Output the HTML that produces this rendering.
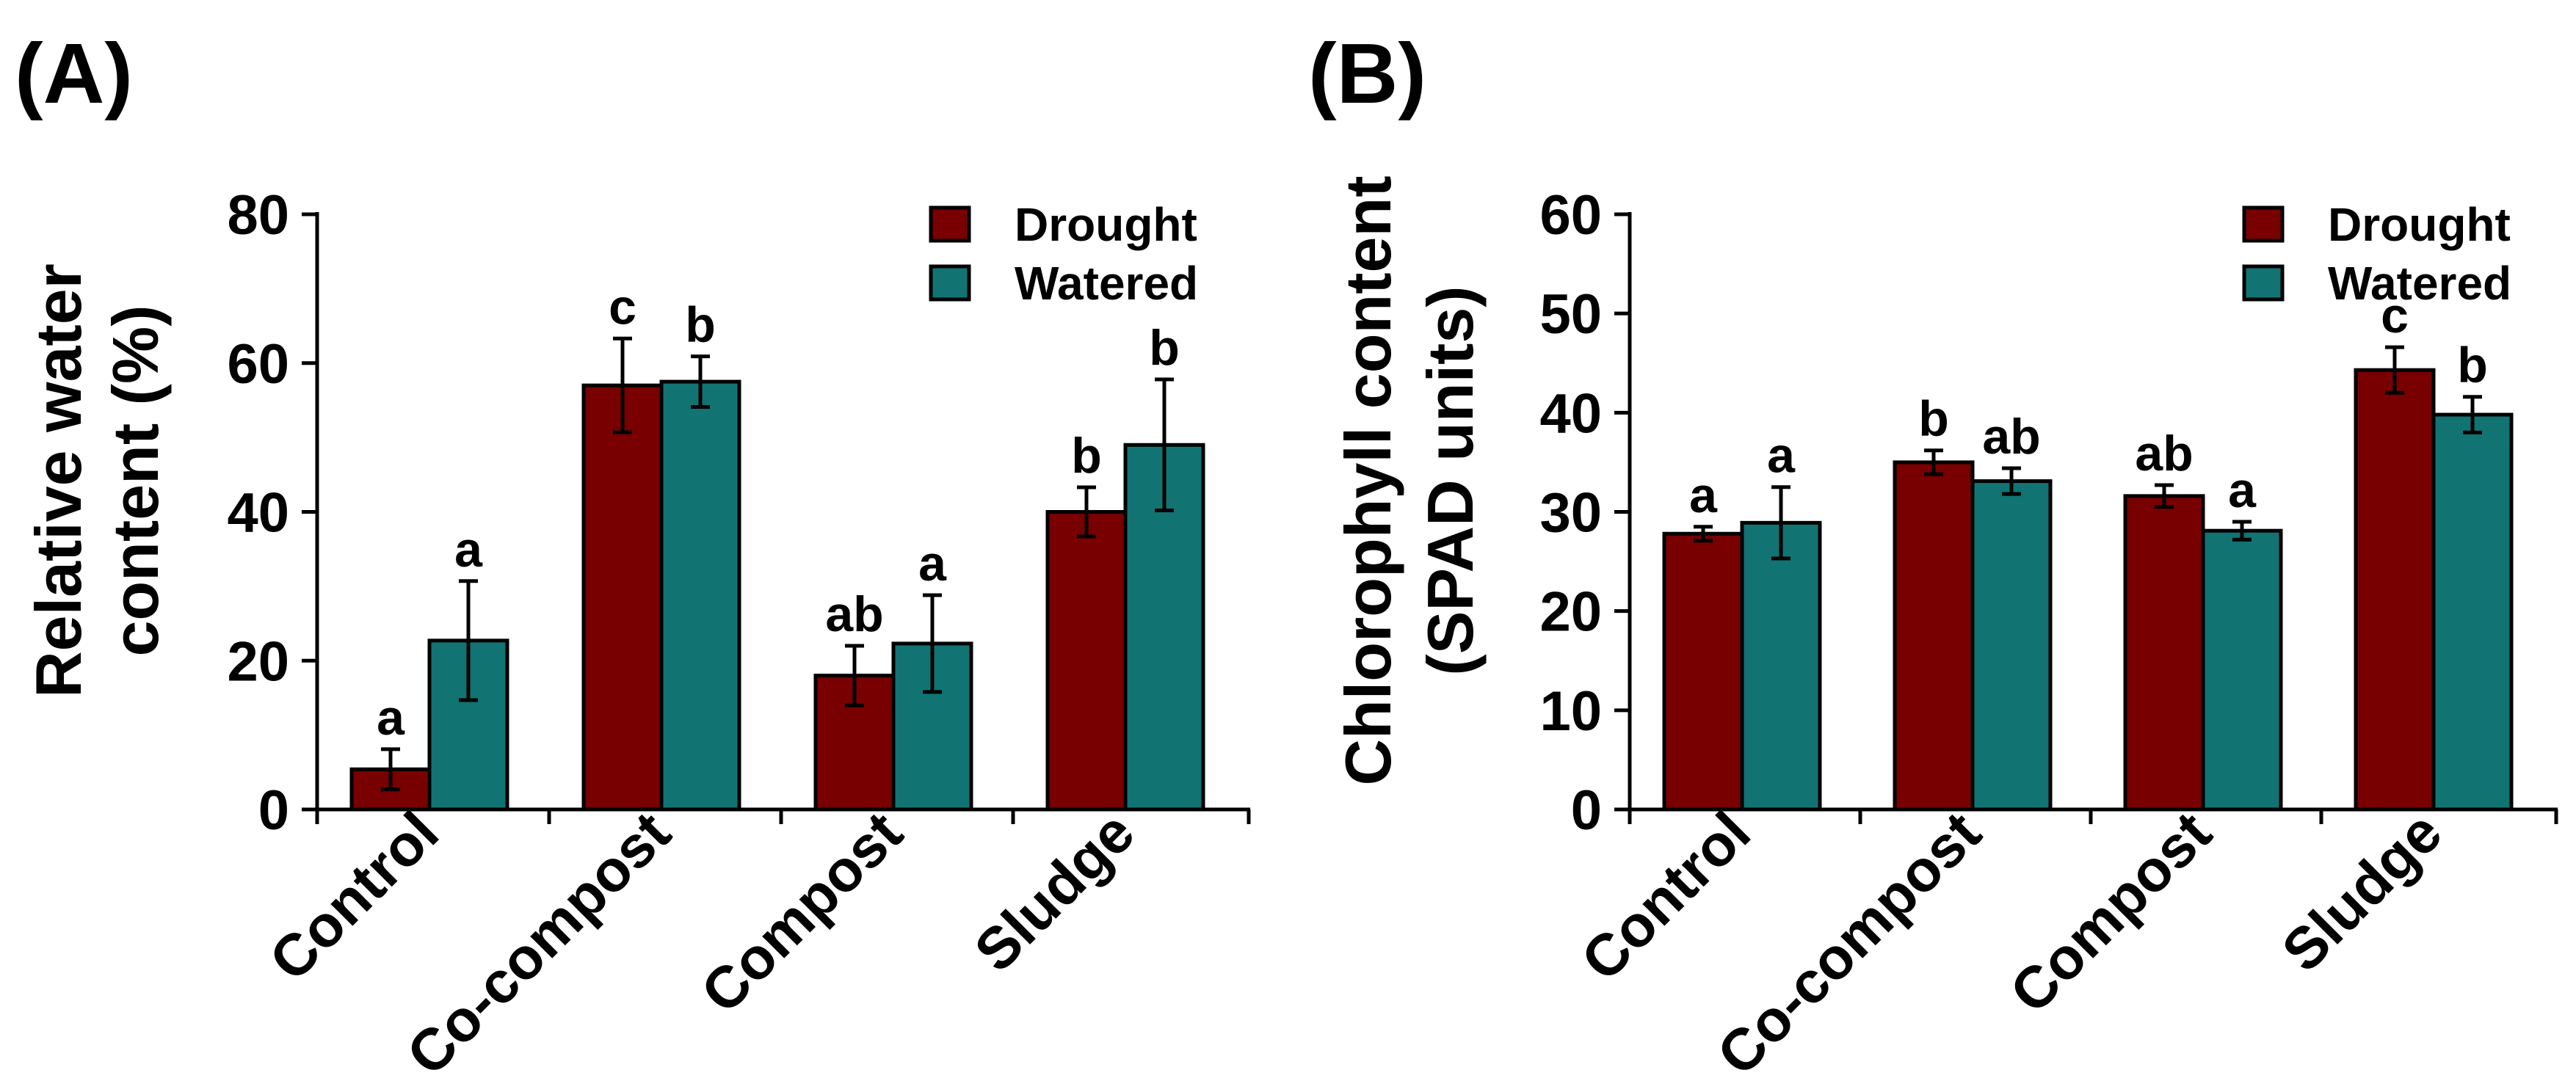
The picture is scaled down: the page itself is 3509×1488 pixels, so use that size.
<!DOCTYPE html>
<html><head><meta charset="utf-8">
<style>
html,body{margin:0;padding:0;background:#fff;}
svg{display:block;font-family:"Liberation Sans",Arial,sans-serif;font-weight:bold;}
</style></head>
<body>
<svg id="chart" width="3509" height="1488" viewBox="0 0 3509 1488" xmlns="http://www.w3.org/2000/svg"></svg>
<script>
const categories = ["Control", "Co-compost", "Compost", "Sludge"];
const seriesNames = ["Drought", "Watered"];
const rwcDrought = [5.4, 57.0, 18.0, 40.0];
const rwcDroughtErr = [2.7, 6.3, 4.0, 3.3];
const rwcWatered = [22.7, 57.5, 22.3, 49.0];
const rwcWateredErr = [8.0, 3.4, 6.5, 8.8];
const rwcLettersDrought = ["a", "c", "ab", "b"];
const rwcLettersWatered = ["a", "b", "a", "b"];
const rwcTicks = [0, 20, 40, 60, 80];
const chlDrought = [27.8, 35.0, 31.6, 44.3];
const chlDroughtErr = [0.7, 1.2, 1.1, 2.3];
const chlWatered = [28.9, 33.1, 28.1, 39.8];
const chlWateredErr = [3.6, 1.3, 0.9, 1.8];
const chlLettersDrought = ["a", "b", "ab", "c"];
const chlLettersWatered = ["a", "ab", "a", "b"];
const chlTicks = [0, 10, 20, 30, 40, 50, 60];

const NS = "http://www.w3.org/2000/svg";
const svg = document.getElementById("chart");
const colors = ["#780000", "#127373"];
function mk(tag, attrs, parent) {
  const e = document.createElementNS(NS, tag);
  for (const k in attrs) e.setAttribute(k, attrs[k]);
  (parent || svg).appendChild(e);
  return e;
}

function panel(o) {
  const g = mk("g", {});
  
  
  const y0 = 1103, yTop = 292;
  const yScale = v => y0 - (v / o.max) * (y0 - yTop);
  const gw = o.groupW, bw = 106, off = 47;
  const xGroup = i => o.ax + i * gw;

  // panel label
  const pl = mk("text", {x: o.labelX, y: 140, "font-size": 116}, g);
  pl.textContent = o.letter;
  
  

  // y title
  const yt = mk("text", {transform: `translate(${o.titleX1},655) rotate(-90)`, "text-anchor": "middle", "font-size": 88}, g);
  yt.textContent = o.title1;
  
  
  const yt2 = mk("text", {transform: `translate(${o.titleX2},655) rotate(-90)`, "text-anchor": "middle", "font-size": 88}, g);
  yt2.textContent = o.title2;
  
  

  // bars
  o.series.forEach((vals, s) => {
    vals.forEach((v, i) => {
      const x = xGroup(i) + off + s * bw;
      const r = mk("rect", {x: x, y: yScale(v), width: bw, height: y0 - yScale(v), fill: colors[s], stroke: "#000", "stroke-width": 5}, g);
      
      
      const cx = x + bw / 2, e = o.errs[s][i];
      const eb = mk("path", {d: `M${cx},${yScale(v - e)}V${yScale(v + e)}M${cx - 13},${yScale(v + e)}H${cx + 13}M${cx - 13},${yScale(v - e)}H${cx + 13}`, stroke: "#000", "stroke-width": 5, fill: "none"}, g);
      
      
      const lt = mk("text", {x: cx, y: yScale(v + e) - 20, "text-anchor": "middle", "font-size": 68}, g);
      lt.textContent = o.letters[s][i];
      
      
    });
  });

  // axes
  const axes = mk("path", {d: `M${o.ax},${yTop - 3}V${y0 + 20}M${o.ax - 3},${y0}H${o.axEnd}`, stroke: "#000", "stroke-width": 5, fill: "none"}, g);
  
  
  o.ticks.forEach(t => {
    const tk = mk("line", {x1: o.ax - 21, x2: o.ax, y1: yScale(t), y2: yScale(t), stroke: "#000", "stroke-width": 5}, g);
    
    
    const tl = mk("text", {x: o.ax - 38, y: yScale(t) + 27, "text-anchor": "end", "font-size": 76}, g);
    tl.textContent = t;
    
    
  });
  categories.forEach((c, i) => {
    if (i > 0) {
      const tk = mk("line", {x1: xGroup(i), x2: xGroup(i), y1: y0, y2: y0 + 20, stroke: "#000", "stroke-width": 5}, g);
      
      
    }
    const cx = xGroup(i) + gw / 2 + 12;
    const ct = mk("text", {transform: `translate(${cx},1140) rotate(-45)`, "text-anchor": "end", "font-size": 80}, g);
    ct.textContent = c;
    
    
  });
  const endTick = mk("line", {x1: o.axEnd - 2, x2: o.axEnd - 2, y1: y0, y2: y0 + 20, stroke: "#000", "stroke-width": 5}, g);
  
  

  // legend
  seriesNames.forEach((n, s) => {
    const ly = 283 + s * 80;
    const sq = mk("rect", {x: o.legX, y: ly, width: 52, height: 45, fill: colors[s], stroke: "#000", "stroke-width": 5}, g);
    
    
    const lt = mk("text", {x: o.legX + 114, y: ly + 45, "font-size": 64}, g);
    lt.textContent = n;
    
    
  });
}

panel({name: "panel-a", letter: "(A)", labelX: 20, title1: "Relative water", title2: "content (%)", titleX1: 110, titleX2: 215,
  ax: 432, axEnd: 1703, groupW: 316, max: 80, ticks: rwcTicks,
  series: [rwcDrought, rwcWatered], errs: [rwcDroughtErr, rwcWateredErr], letters: [rwcLettersDrought, rwcLettersWatered], legX: 1268});
panel({name: "panel-b", letter: "(B)", labelX: 1782, title1: "Chlorophyll content", title2: "(SPAD units)", titleX1: 1894, titleX2: 2006,
  ax: 2220, axEnd: 3484, groupW: 314, max: 60, ticks: chlTicks,
  series: [chlDrought, chlWatered], errs: [chlDroughtErr, chlWateredErr], letters: [chlLettersDrought, chlLettersWatered], legX: 3057});
</script>
</body></html>
